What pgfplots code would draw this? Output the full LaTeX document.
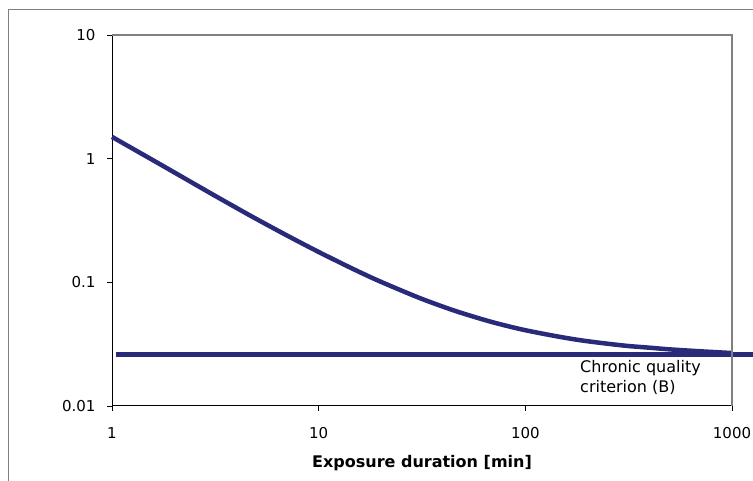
\documentclass[border=0pt]{standalone}
\usepackage{pgfplots}
\pgfplotsset{compat=1.18}
\usepackage{fontspec}
\setmainfont{DejaVu Sans}
\definecolor{navy}{RGB}{42,42,122}
\definecolor{framegray}{RGB}{128,128,128}
\begin{document}
\begin{tikzpicture}[x=1bp,y=1bp]
\useasboundingbox (0,0) rectangle (753,481);
\draw[framegray, line width=1.5bp] (8.5,-5) -- (8.5,471.5) -- (760,471.5);
\begin{axis}[
  at={(112bp,75bp)}, anchor=south west,
  scale only axis, width=620bp, height=371bp,
  xmode=log, ymode=log,
  xmin=1, xmax=1000, ymin=0.01, ymax=10,
  axis lines*=left,
  axis line style={black, line width=1bp},
  xtick={1,10,100,1000}, ytick={0.01,0.1,1,10},
  xticklabels={1,10,100,1000}, yticklabels={0.01,0.1,1,10},
  xminorticks=false, yminorticks=false,
  tick align=outside, major tick length=5bp,
  tick style={black, line width=0.8bp},
  ticklabel style={font=\fontsize{15bp}{18bp}\selectfont},
  xticklabel style={yshift=-13bp},
  yticklabel style={xshift=-8bp},
  /pgf/number format/assume math mode=true,
  xlabel={\bfseries Exposure duration [min]},
  xlabel style={font=\fontsize{16bp}{18bp}\selectfont, at={(axis description cs:0.5,0)}, anchor=base, yshift=-61bp},
  clip=false,
]
\addplot[navy, line width=4.5bp, smooth] coordinates {
  (1,1.50) (1.5,1.02) (2,0.775) (3,0.525) (4,0.40) (5,0.325) (7,0.24)
  (10,0.176) (15,0.126) (20,0.101) (30,0.076) (40,0.0635) (50,0.056)
  (70,0.0474) (100,0.041) (150,0.036) (200,0.0334) (300,0.0308)
  (400,0.0296) (500,0.0287) (700,0.0277) (1000,0.0268)
};
\addplot[navy, line width=4.5bp] coordinates {(1.045,0.026) (1500,0.026)};
\draw[framegray, line width=1.3bp] (rel axis cs:0,1) -- (rel axis cs:1,1) -- (rel axis cs:1,0);
\end{axis}
\node[anchor=north west, inner sep=0pt, align=left, font=\fontsize{16bp}{20bp}\selectfont] at (580,121) {Chronic quality\\criterion (B)};
\end{tikzpicture}
\end{document}
